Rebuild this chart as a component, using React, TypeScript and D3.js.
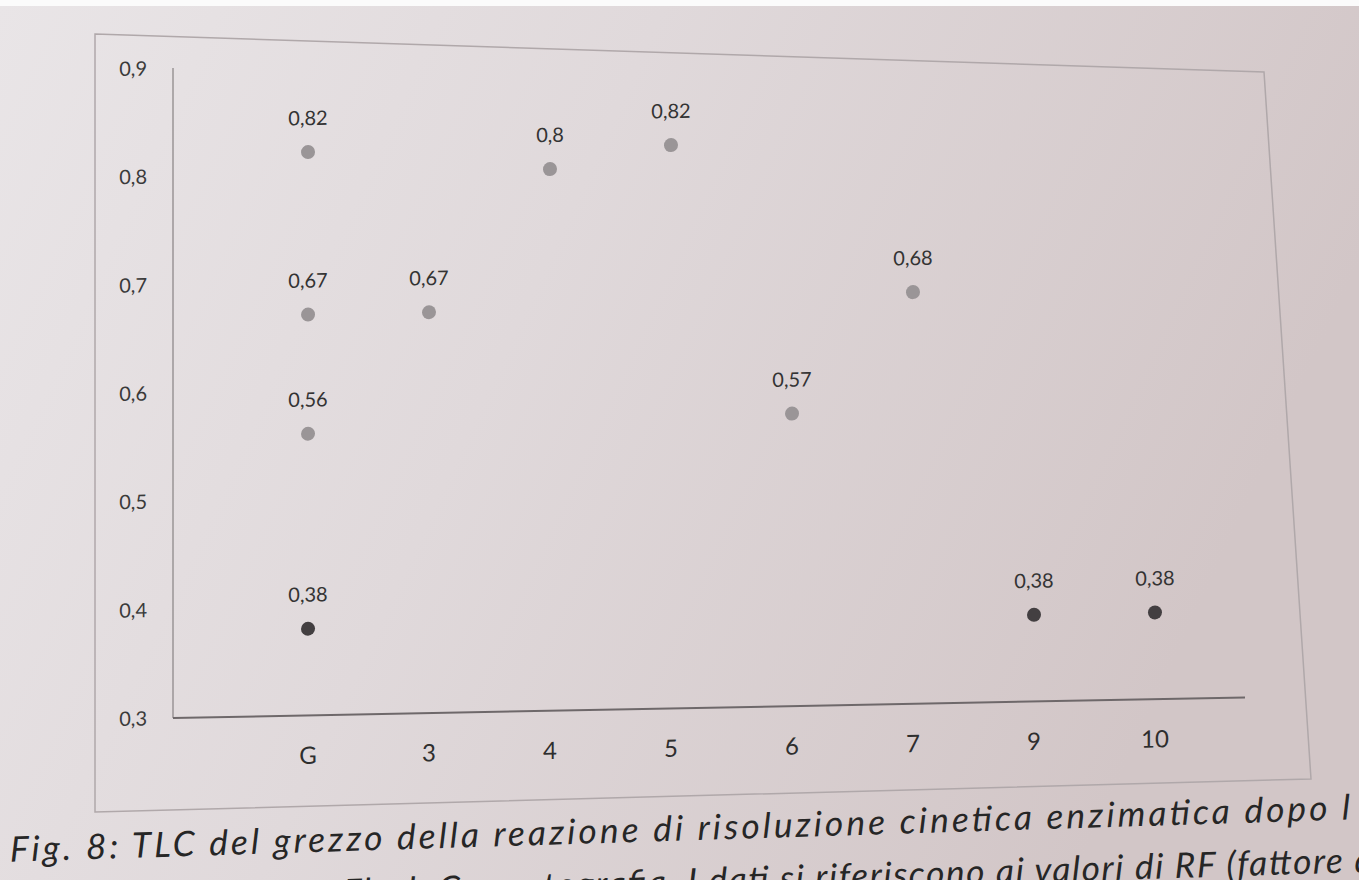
import React from 'react'
import * as d3 from 'd3';

// samples on the TLC plate and their RF values
const categories = ['G', '3', '4', '5', '6', '7', '9', '10'];
const spots = [
  { cat: 'G', rf: 0.82, dark: false },
  { cat: 'G', rf: 0.67, dark: false },
  { cat: 'G', rf: 0.56, dark: false },
  { cat: 'G', rf: 0.38, dark: true },
  { cat: '3', rf: 0.67, dark: false },
  { cat: '4', rf: 0.8, dark: false },
  { cat: '5', rf: 0.82, dark: false },
  { cat: '6', rf: 0.57, dark: false },
  { cat: '7', rf: 0.68, dark: false },
  { cat: '9', rf: 0.38, dark: true },
  { cat: '10', rf: 0.38, dark: true },
];
const yTicks = [0.3, 0.4, 0.5, 0.6, 0.7, 0.8, 0.9];
const captionLines = [
  'Fig. 8: TLC del grezzo della reazione di risoluzione cinetica enzimatica dopo l',
  'Flash Cromatografia. I dati si riferiscono ai valori di RF (fattore d',
];

const fmt = (v: number) => String(v).replace('.', ',');
const FONT = 'Lato, "Open Sans", sans-serif';

const App = () => {
  const left = 173, right = 1245, top = 68, bottom = 718;

  const x = d3.scalePoint<string>()
    .domain(categories)
    .range([left, right])
    .padding(0.93)
    .align(0.6);

  const y = d3.scaleLinear()
    .domain([0.3, 0.9])
    .range([bottom, top]);

  // the printed frame is photographed in perspective
  const frame = d3.line()([[95, 34], [1264, 72], [1311, 779], [95, 812]]) + 'Z';

  return (
    <svg width={1359} height={880} style={{ position: 'absolute', left: 0, top: 0 }}>
      <defs>
        <linearGradient id='paper' x1='0' x2='1' y1='0' y2='0.3'>
          <stop offset='0' stopColor='#e9e5e7' />
          <stop offset='0.45' stopColor='#e0d9db' />
          <stop offset='1' stopColor='#d2c6c7' />
        </linearGradient>
      </defs>
      <rect width={1359} height={880} fill='url(#paper)' />
      <rect width={1359} height={6} fill='#fbfbfb' />

      <path d={frame} fill='none' stroke='#b0a8aa' strokeWidth={1.5} />

      <g transform={`translate(${left},0) skewY(-1.1) translate(${-left},0)`}>
        {/* axes */}
        <line x1={left} x2={left} y1={y(0.9)} y2={y(0.3)} stroke='#9a9496' strokeWidth={1.5} />
        <line x1={left} x2={right} y1={y(0.3)} y2={y(0.3)} stroke='#6e686a' strokeWidth={2} />

        {yTicks.map(t =>
          <text key={t} x={147} y={y(t)} dy='0.35em' textAnchor='end' fontFamily={FONT} fontSize={20} fill='#3a3a3a'>{fmt(t)}</text>
        )}

        {categories.map(c =>
          <text key={c} x={x(c)} y={bottom + 40} dy='0.35em' textAnchor='middle' fontFamily={FONT} fontSize={24} fill='#2e2e2e'>{c}</text>
        )}

        {spots.map((s, i) =>
          <g key={i}>
            <circle cx={x(s.cat)} cy={y(s.rf)} r={7} fill={s.dark ? '#433f41' : '#9a9597'} />
            <text x={x(s.cat)} y={y(s.rf) - 34} dy='0.35em' textAnchor='middle' fontFamily={FONT} fontSize={20} fill='#333'>{fmt(s.rf)}</text>
          </g>
        )}
      </g>

      {/* figure caption */}
      <g transform='skewY(-1.8)'>
        <text x={10} y={862} textLength={1340} lengthAdjust='spacing' fontFamily={FONT} fontStyle='italic' fontSize={35} fill='#262626'>{captionLines[0]}</text>
        <text x={343} y={915} textLength={1030} lengthAdjust='spacing' fontFamily={FONT} fontStyle='italic' fontSize={35} fill='#262626'>{captionLines[1]}</text>
      </g>
    </svg>
  )
}

export default App
